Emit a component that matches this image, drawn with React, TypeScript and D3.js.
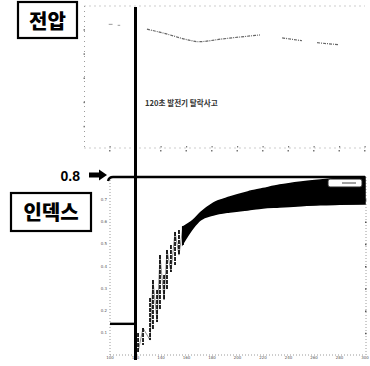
import * as d3 from 'd3';

// ── data ────────────────────────────────────────────────────────────────────
const TRIP_TIME = 120; // s, generator trip
const INDEX_LIMIT = 0.8;
const INDEX_START = 0.14;

// voltage (p.u.), gaps where the scan has faded out
const voltT = [129, 141.6, 161, 169, 188.6, 217.6, 235, 250.6, 262.4, 278.8];
const voltV = [1.025, 1.021, 1.014, 1.012, 1.015, 1.019, 1.016, 1.013, 1.011, 1.009];
const voltGapAfter = [5, 7];

// sparse oscillation right after the trip
const spikeT = [122, 125.9, 131.4, 133.7, 136.9, 139.2, 142.4, 144.7, 147.8, 151, 154.1, 157.3];
const spikeHi = [0.099, 0.121, 0.256, 0.337, 0.292, 0.449, 0.36, 0.472, 0.494, 0.553, 0.562, 0.58];
const spikeLo = [0.013, 0.045, 0.067, 0.112, 0.148, 0.202, 0.247, 0.292, 0.373, 0.404, 0.449, 0.49];

// dense oscillation band
const bandT = [157, 165, 171, 181, 194, 208, 220, 233, 250, 265, 280, 300];
const bandHi = [0.575, 0.605, 0.64, 0.683, 0.71, 0.733, 0.748, 0.764, 0.778, 0.787, 0.794, 0.8];
const bandLo = [0.5, 0.57, 0.607, 0.629, 0.643, 0.652, 0.661, 0.665, 0.671, 0.675, 0.677, 0.679];

const indexTicks = [0.1, 0.2, 0.3, 0.4, 0.5, 0.6, 0.7];
const timeTicks = [100, 120, 140, 160, 180, 200, 220, 240, 260, 280, 300];
const voltTicks = [0.925, 0.95, 0.975, 1.0, 1.025];

const W = 370;
const H = 366;

export default function App() {
  const x = d3.scaleLinear().domain([100, 300]).range([110, 365]);
  const yIdx = d3.scaleLinear().domain([0, INDEX_LIMIT]).range([355, 177]);
  const yV = d3.scaleLinear().domain([0.9, 1.05]).range([150, 5]);

  const xTrip = x(TRIP_TIME);
  const yLim = yIdx(INDEX_LIMIT);
  const yStart = yIdx(INDEX_START);

  const band =
    d3
      .area<number>()
      .x((i) => x(bandT[i]))
      .y0((i) => yIdx(bandLo[i]))
      .y1((i) => yIdx(bandHi[i]))
      .curve(d3.curveMonotoneX)(bandT.map((_, i) => i)) ?? '';

  // thin trace joining the oscillation extremes
  let zig = '';
  spikeT.forEach((t, i) => {
    const v = i % 2 === 0 ? spikeLo[i] : spikeHi[i];
    zig += `${i === 0 ? 'M' : 'L'}${x(t)},${yIdx(v)}`;
  });

  const voltPts: { t: number; v: number | null }[] = [];
  voltT.forEach((t, i) => {
    voltPts.push({ t, v: voltV[i] });
    if (voltGapAfter.includes(i)) voltPts.push({ t, v: null });
  });
  const voltLine =
    d3
      .line<{ t: number; v: number | null }>()
      .defined((d) => d.v !== null)
      .x((d) => x(d.t))
      .y((d) => yV(d.v as number))
      .curve(d3.curveMonotoneX)(voltPts) ?? '';

  const x0Top = x(80);
  const x1 = x(300);

  return (
    <svg
      width={W}
      height={H}
      viewBox={`0 0 ${W} ${H}`}
      style={{ position: 'absolute', left: 0, top: 0, background: '#fff' }}
    >
      {/* ── top plot frame (faded dotted) ── */}
      <g stroke='#9a9a9a' strokeWidth={1} strokeDasharray='1 4' fill='none'>
        <line x1={x0Top} x2={x1} y1={6} y2={6} />
        <line x1={x0Top} x2={x1} y1={148} y2={148} />
        <line x1={x0Top} x2={x0Top} y1={6} y2={148} />
      </g>
      {timeTicks.map((t) => (
        <g key={'tt' + t} fill='#777'>
          <rect x={x(t) - 0.5} y={146} width={1.2} height={1.5} />
          <rect x={x(t) - 1} y={150} width={1.5} height={1.5} />
        </g>
      ))}
      {voltTicks.map((v) => (
        <rect key={'vt' + v} x={x0Top - 1} y={yV(v)} width={1.5} height={1.5} fill='#777' />
      ))}

      {/* voltage trace */}
      <path d={voltLine} fill='none' stroke='#666' strokeWidth={1.2} strokeDasharray='3 1 1 1' />
      <path
        d={`M${x(99)},${yV(1.03)}L${x(102)},${yV(1.03)}M${x(106)},${yV(1.029)}L${x(108)},${yV(1.029)}`}
        stroke='#999'
        strokeWidth={1}
      />

      <text
        x={145}
        y={106}
        fontFamily="'Noto Sans CJK KR', sans-serif"
        fontSize={7.6}
        fontWeight={700}
        fill='#333'
      >
        120초 발전기 탈락사고
      </text>

      {/* ── bottom plot frame ── */}
      <g stroke='#9a9a9a' strokeWidth={1} strokeDasharray='1 2' fill='none'>
        <line x1={x(100)} x2={x(100)} y1={yLim} y2={yIdx(0)} />
        <line x1={x(100)} x2={x1} y1={yIdx(0)} y2={yIdx(0)} />
        <line x1={x1 + 1} x2={x1 + 1} y1={yLim} y2={yIdx(0)} />
      </g>
      {indexTicks.map((v) => (
        <g key={'it' + v} fill='#555'>
          <text
            x={x(100) - 3}
            y={yIdx(v) + 1.5}
            textAnchor='end'
            fontSize={4}
            fontFamily='DejaVu Sans'
          >
            {v.toFixed(1)}
          </text>
          <rect x={x1} y={yIdx(v)} width={1.5} height={1.5} />
        </g>
      ))}
      {timeTicks.map((t) => (
        <text
          key={'bt' + t}
          x={x(t)}
          y={yIdx(0) + 4}
          textAnchor='middle'
          fontSize={4}
          fontFamily='DejaVu Sans'
          fill='#555'
        >
          {t}
        </text>
      ))}

      {/* index traces */}
      <path d={zig} fill='none' stroke='#444' strokeWidth={0.6} />
      {spikeT.map((t, i) => (
        <line
          key={'sp' + i}
          x1={x(t)}
          x2={x(t)}
          y1={yIdx(spikeHi[i])}
          y2={yIdx(spikeLo[i])}
          stroke='#111'
          strokeWidth={1.8}
          strokeDasharray='4 1'
        />
      ))}
      <path d={band} fill='#000' stroke='#000' strokeWidth={1.5} />

      {/* legend box */}
      <rect x={328} y={179} width={34} height={8} rx={2} fill='#fff' stroke='#222' strokeWidth={1} />
      <line x1={342} x2={356} y1={183} y2={183} stroke='#444' strokeWidth={1} />

      {/* limit and reference lines */}
      <path
        d={`M${x(100) - 2},${yLim + 4}Q${x(100) - 1},${yLim} ${x(100) + 3},${yLim}L${x1},${yLim}`}
        fill='none'
        stroke='#000'
        strokeWidth={2.4}
      />
      <line x1={x(100)} x2={xTrip} y1={yStart} y2={yStart} stroke='#000' strokeWidth={2.4} />
      <line x1={xTrip} x2={xTrip} y1={7} y2={360} stroke='#000' strokeWidth={3} />

      {/* 0.8 arrow label */}
      <text
        x={80}
        y={180.5}
        textAnchor='end'
        fontFamily="'Liberation Sans', sans-serif"
        fontWeight={700}
        fontSize={14}
        fill='#000'
      >
        0.8
      </text>
      <path d='M89,172.5L99,172.5L99,169.5L107,175L99,180.5L99,177.5L89,177.5Z' fill='#000' />

      {/* boxed titles */}
      <rect x={18} y={2} width={59} height={36} fill='#fff' stroke='#000' strokeWidth={2.2} />
      <text
        x={47.5}
        y={28.5}
        textAnchor='middle'
        fontFamily="'Noto Sans CJK KR', sans-serif"
        fontWeight={900}
        fontSize={20}
        fill='#000'
      >
        전압
      </text>
      <rect x={11} y={193} width={80} height={38} fill='#fff' stroke='#000' strokeWidth={2.2} />
      <text
        x={51}
        y={220}
        textAnchor='middle'
        fontFamily="'Noto Sans CJK KR', sans-serif"
        fontWeight={900}
        fontSize={20}
        fill='#000'
      >
        인덱스
      </text>
    </svg>
  );
}
